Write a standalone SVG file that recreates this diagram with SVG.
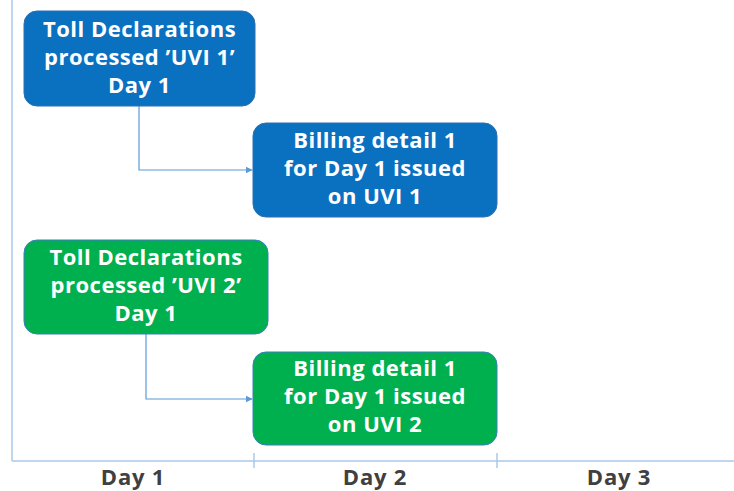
<svg xmlns="http://www.w3.org/2000/svg" width="734" height="491" viewBox="0 0 734 491">
  <defs>
    <style>
      .axis { stroke: #a9c8e8; stroke-width: 1.5; fill: none; }
      .link { stroke: #5b9bd5; stroke-width: 1.2; fill: none; }
      .blue { fill: #0a70c0; stroke: #2f6fb0; stroke-width: 1; }
      .green { fill: #00b04f; stroke: #3a7fc0; stroke-width: 1; }
      .label { font-family: "Open Sans", "Liberation Sans", Arial, sans-serif; font-weight: bold; font-size: 22px; letter-spacing: 0.5px; fill: #ffffff; text-anchor: middle; }
      .day { font-family: "Open Sans", "Liberation Sans", Arial, sans-serif; font-weight: bold; font-size: 22px; letter-spacing: 0.8px; fill: #404040; text-anchor: middle; }
    </style>
    <marker id="arrow" viewBox="0 0 10 10" refX="9" refY="5" markerWidth="6" markerHeight="6" orient="auto">
      <path d="M0,0 L10,5 L0,10 z" fill="#5b9bd5"/>
    </marker>
  </defs>

  <rect width="734" height="491" fill="#ffffff"/>

  <!-- timeline axes -->
  <g id="axes">
    <line class="axis" x1="12" y1="0" x2="12" y2="461"/>
    <line class="axis" x1="12" y1="461" x2="734" y2="461"/>
    <line class="axis" x1="254" y1="453" x2="254" y2="468"/>
    <line class="axis" x1="497" y1="453" x2="497" y2="468"/>
    <text class="day" x="133" y="485">Day 1</text>
    <text class="day" x="375" y="485">Day 2</text>
    <text class="day" x="619" y="485">Day 3</text>
  </g>

  <!-- connectors -->
  <g id="connectors">
    <path class="link" d="M139,106 V170 H252" marker-end="url(#arrow)"/>
    <path class="link" d="M146,334 V399 H252" marker-end="url(#arrow)"/>
  </g>

  <g id="toll-uvi1">
    <rect class="blue" x="24" y="11" width="231" height="95" rx="13"/>
    <text class="label" x="139.5" y="37">Toll Declarations</text>
    <text class="label" x="139.5" y="65">processed ’UVI 1’</text>
    <text class="label" x="139.5" y="93">Day 1</text>
  </g>

  <g id="billing-uvi1">
    <rect class="blue" x="253" y="123" width="244" height="94" rx="13"/>
    <text class="label" x="375" y="148">Billing detail 1</text>
    <text class="label" x="375" y="176">for Day 1 issued</text>
    <text class="label" x="375" y="204">on UVI 1</text>
  </g>

  <g id="toll-uvi2">
    <rect class="green" x="24" y="240" width="244" height="94" rx="13"/>
    <text class="label" x="146" y="265">Toll Declarations</text>
    <text class="label" x="146" y="293">processed ’UVI 2’</text>
    <text class="label" x="146" y="321">Day 1</text>
  </g>

  <g id="billing-uvi2">
    <rect class="green" x="253" y="352" width="244" height="93" rx="13"/>
    <text class="label" x="375" y="376">Billing detail 1</text>
    <text class="label" x="375" y="404">for Day 1 issued</text>
    <text class="label" x="375" y="432">on UVI 2</text>
  </g>
</svg>
